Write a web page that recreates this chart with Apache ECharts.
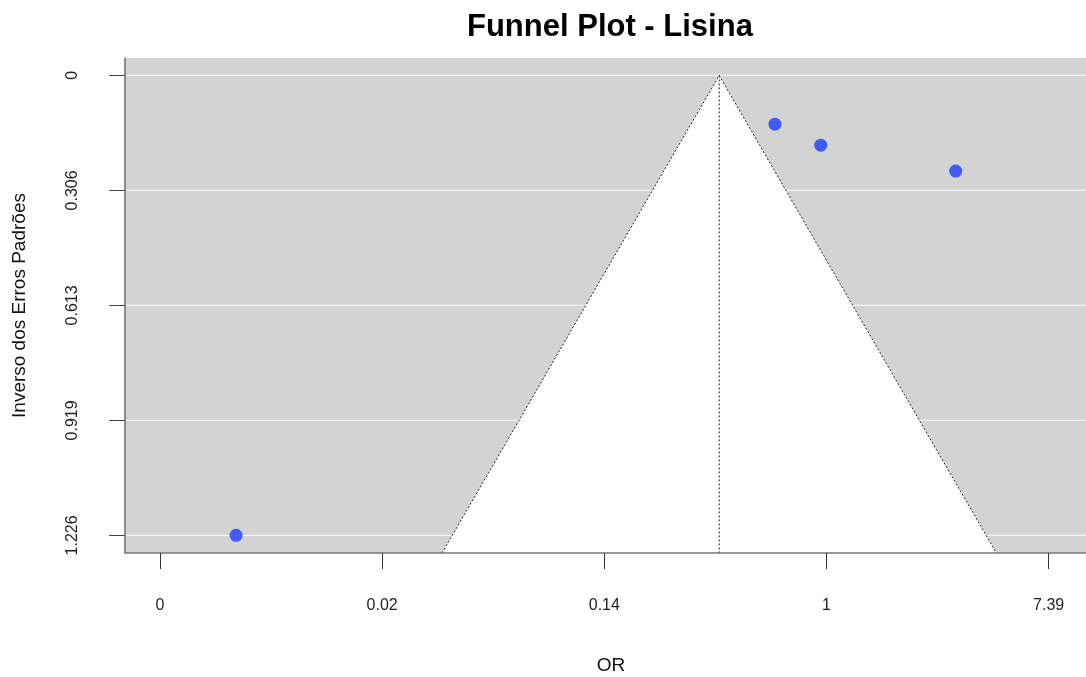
<!DOCTYPE html>
<html>
<head>
<meta charset="utf-8">
<script src="https://cdn.jsdelivr.net/npm/echarts@6/dist/echarts.min.js"></script>
<style>html,body{margin:0;padding:0;background:#fff;}#c{width:1086px;height:677px;}</style>
</head>
<body>
<div id="c"></div>
<script>
// ---- data ----
const xTickVals = [-6, -4, -2, 0, 2];               // log(OR) tick positions
const xTickLabels = ['0', '0.02', '0.14', '1', '7.39'];
const yTickVals = [0, 0.3065, 0.613, 0.9195, 1.226]; // standard error ticks
const yTickLabels = ['0', '0.306', '0.613', '0.919', '1.226'];
const logOR = [-5.315, -0.464, -0.052, 1.163];
const seVals = [1.226, 0.130, 0.186, 0.255];
const funnelCenter = -0.966;
const xRange = [-6.315, 2.435];
const yRange = [-0.0464, 1.273];

const FONT = "'Liberation Sans', Arial, sans-serif";
const chart = echarts.init(document.getElementById('c'), null, {renderer: 'canvas'});

const points = logOR.map((x, i) => [x, seVals[i]]);

const option = {
  animation: false,
  title: {
    text: 'Funnel Plot - Lisina',
    left: 467, top: 12, padding: 0,
    textStyle: {fontFamily: FONT, fontSize: 31, fontWeight: 'bold', color: '#000'}
  },
  grid: {
    left: 125, width: 972, top: 58, height: 495,
    outerBoundsMode: 'none', containLabel: false,
    show: true, backgroundColor: '#d3d3d3', borderWidth: 0
  },
  xAxis: {
    type: 'value', min: xRange[0], max: xRange[1], z: 10,
    name: 'OR', nameLocation: 'middle', nameGap: 103,
    nameTextStyle: {fontFamily: FONT, fontSize: 19, color: '#111'},
    axisLine: {show: true, onZero: false, lineStyle: {color: '#777', width: 1.6}},
    axisTick: {show: true, customValues: xTickVals, length: 16, lineStyle: {color: '#333', width: 1}},
    axisLabel: {
      customValues: xTickVals, margin: 45, fontFamily: FONT, fontSize: 16, color: '#222',
      formatter: v => { const i = xTickVals.indexOf(v); return i >= 0 ? xTickLabels[i] : ''; }
    },
    splitLine: {show: false}
  },
  yAxis: {
    type: 'value', inverse: true, min: yRange[0], max: yRange[1], z: 10,
    name: 'Inverso dos Erros Padrões', nameLocation: 'middle', nameGap: 96, nameRotate: 90,
    nameTextStyle: {fontFamily: FONT, fontSize: 19, color: '#111'},
    axisLine: {show: true, onZero: false, lineStyle: {color: '#777', width: 1.6}},
    axisTick: {show: true, customValues: yTickVals, length: 16, lineStyle: {color: '#444', width: 1}},
    axisLabel: {
      customValues: yTickVals, rotate: 90, margin: 44, fontFamily: FONT, fontSize: 16, color: '#222',
      formatter: v => { const i = yTickVals.indexOf(v); return i >= 0 ? yTickLabels[i] : ''; }
    },
    splitLine: {show: false}
  },
  series: [
    {
      type: 'custom', name: 'grid', silent: true, z: 1,
      data: yTickVals.map(v => [xRange[0], v]),
      renderItem: (params, api) => {
        const cs = params.coordSys;
        const y = api.coord([xRange[0], api.value(1)])[1];
        return {type: 'line', shape: {x1: cs.x, y1: y, x2: cs.x + cs.width, y2: y},
          style: {stroke: '#f2f2f2', lineWidth: 1.2}};
      }
    },
    {
      type: 'custom', name: 'funnel', silent: true, z: 2,
      data: [[funnelCenter, 0]],
      renderItem: (params, api) => {
        const c = api.value(0);
        const seMax = yRange[1];
        const pL = api.coord([c - 1.96 * seMax, seMax]);
        const pT = api.coord([c, 0]);
        const pR = api.coord([c + 1.96 * seMax, seMax]);
        const pB = api.coord([c, seMax]);
        return {type: 'group', children: [
          {type: 'polygon', shape: {points: [pL, pT, pR]}, style: {fill: '#ffffff', stroke: null}},
          {type: 'polyline', shape: {points: [pL, pT, pR]}, style: {fill: null, stroke: '#222', lineWidth: 1, lineDash: [2, 2]}},
          {type: 'line', shape: {x1: pT[0], y1: pT[1], x2: pB[0], y2: pB[1]}, style: {stroke: '#222', lineWidth: 1, lineDash: [2, 2]}}
        ]};
      }
    },
    {
      type: 'scatter', name: 'studies', z: 5,
      data: points, symbol: 'circle', symbolSize: 13,
      itemStyle: {color: '#1a3cff'}
    }
  ]
};
chart.setOption(option);
</script>
</body>
</html>
